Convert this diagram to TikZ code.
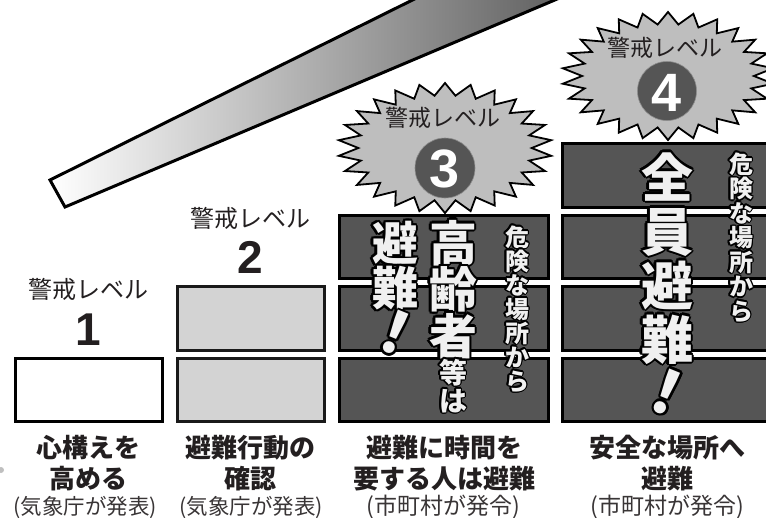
\documentclass[tikz,border=0pt]{standalone}
\usepackage{fontspec}
\setmainfont{Noto Sans CJK JP}
\newfontfamily\numfont{Liberation Sans}
\definecolor{dk}{HTML}{555555}
\definecolor{lg}{HTML}{D3D3D3}
\definecolor{sg}{HTML}{BEBEBE}
\definecolor{tx}{HTML}{231F20}
\definecolor{vt}{HTML}{F0F0F0}
\definecolor{barend}{HTML}{484848}
\newcommand\fs[1]{\fontsize{#1}{#1}\selectfont}
% outlined text: [opts]{name}{x}{y}{size}{radius}{text}
\newcommand\otxt[7][]{%
  \foreach \a in {0,30,...,330}{%
    \node[anchor=base,font=\bfseries\fs{#5},text=black,xshift={#6*cos(\a)},yshift={#6*sin(\a)},#1] at (#3,#4) {#7};}%
  \node[anchor=base,font=\bfseries\fs{#5},text=vt,#1] (#2) at (#3,#4) {#7};}
% vertical column: {name}{x}{first baseline}{pitch}{size}{radius}{chars}
\newcommand\vcol[7]{%
  \foreach \ch [count=\i from 0] in {#7}{%
    \pgfmathsetmacro\yy{#3+\i*#4}%
    \otxt{#1\i}{#2}{\yy}{#5}{#6}{\ch}}}
\tikzset{
  boxw/.style={draw=black,line width=3pt,fill=white},
  boxl/.style={draw=black!90,line width=3pt,fill=lg},
  boxd/.style={draw=black,line width=3pt,fill=dk},
  starsty/.style={draw=black,line width=1.8pt,fill=sg,line join=miter},
  lvl/.style={anchor=base,font=\fs{24},text=tx},
  lvls/.style={anchor=base,font=\fs{23},text=tx},
  boldt/.style={anchor=base,font=\bfseries\fs{26},text=tx},
  paren/.style={anchor=base,font=\fs{21.5},text=tx!90},
  parenb/.style={anchor=base,font=\fs{23},text=tx!90},
  num/.style={anchor=base,font=\numfont\bfseries\fs{46},text=tx},
  cnum/.style={anchor=base,font=\numfont\bfseries\fs{54},text=white},
}
\begin{document}
\begin{tikzpicture}[x=1pt,y=-1pt,every node/.style={inner sep=0pt,outer sep=0pt}]
\useasboundingbox (0,0) rectangle (766,517);
\clip (0,0) rectangle (766,517);
% rising bar
\draw[line width=3pt,line join=miter,left color=white,right color=barend]
  (50,180) -- (65,207) -- (640,-36) -- (640,-113) -- cycle;
% small dot at left edge
\fill[black!25] (1,470) circle[radius=3];
% boxes level 1
\draw[boxw] (15.5,358) rectangle (162.5,421.5);
% level 2
\draw[boxl] (177.5,286.5) rectangle (324.5,350);
\draw[boxl] (177.5,358) rectangle (324.5,421.5);
% level 3
\draw[boxd] (339.5,215) rectangle (548.5,278.5);
\draw[boxd] (339.5,286.5) rectangle (548.5,350);
\draw[boxd] (339.5,358) rectangle (548.5,421.5);
% level 4
\draw[boxd] (562.5,143.5) rectangle (790,207);
\draw[boxd] (562.5,215) rectangle (790,278.5);
\draw[boxd] (562.5,286.5) rectangle (790,350);
\draw[boxd] (562.5,358) rectangle (790,421.5);
% starbursts
\draw[starsty] plot[samples at={0,...,51},variable=\k]
  ({445+107*(1-0.19*mod(\k,2))*cos(90+\k*6.9230769)},{148+65*(1-0.19*mod(\k,2))*sin(90+\k*6.9230769)}) -- cycle;
\draw[starsty] plot[samples at={0,...,51},variable=\k]
  ({668+106*(1-0.19*mod(\k,2))*cos(90+\k*6.9230769)},{76+64*(1-0.19*mod(\k,2))*sin(90+\k*6.9230769)}) -- cycle;
% circles with numbers
\fill[dk] (445,168) circle[radius=30];
\draw[black!45,line width=0.6pt] (445,168) circle[radius=30];
\node[cnum] (n3) at (445,187) {3};
\fill[dk] (667,91) circle[radius=29.5];
\draw[black!45,line width=0.6pt] (667,91) circle[radius=29.5];
\node[cnum] (n4) at (667,111) {4};
% level labels
\node[lvl] (l1) at (88,298) {警戒レベル};
\node[num] (d1) at (88,345) {1};
\node[lvl] (l2) at (250,227) {警戒レベル};
\node[num] (d2) at (250,273) {2};
\node[lvls] (l3) at (443,126) {警戒レベル};
\node[lvls] (l4) at (665,56) {警戒レベル};
% vertical texts level 3
\vcol{hin}{395}{260.5}{45}{46}{2.2}{避,難}
\otxt[anchor=center,rotate=-22]{ex3}{395}{333}{58}{2.2}{！}
\vcol{kou}{453}{261}{46.5}{48}{2.2}{高,齢,者}
\vcol{tou}{453}{383}{28}{28}{1.8}{等,は}
\vcol{kik}{517}{246}{24}{24}{1.5}{危,険,な,場,所,か,ら}
% vertical texts level 4
\vcol{zen}{667}{197}{54}{52}{2.3}{全,員,避,難}
\otxt[anchor=center,rotate=-22]{ex4}{667}{392}{60}{2.3}{！}
\vcol{kik4}{741}{173}{24.5}{24}{1.5}{危,険,な,場,所,か,ら}
% bottom captions
\node[boldt] (a1) at (88,457) {心構えを};
\node[boldt] (a2) at (88,488) {高める};
\node[paren] (a3) at (85,514) {(気象庁が発表)};
\node[boldt] (b1) at (250,457) {避難行動の};
\node[boldt] (b2) at (250,488) {確認};
\node[paren] (b3) at (251,514) {(気象庁が発表)};
\node[boldt] (c1) at (444,457) {避難に時間を};
\node[boldt] (c2) at (444,488) {要する人は避難};
\node[parenb] (c3) at (443,514) {(市町村が発令)};
\node[boldt] (e1) at (667,457) {安全な場所へ};
\node[boldt] (e2) at (667,488) {避難};
\node[parenb] (e3) at (667,514) {(市町村が発令)};
\end{tikzpicture}
\end{document}
